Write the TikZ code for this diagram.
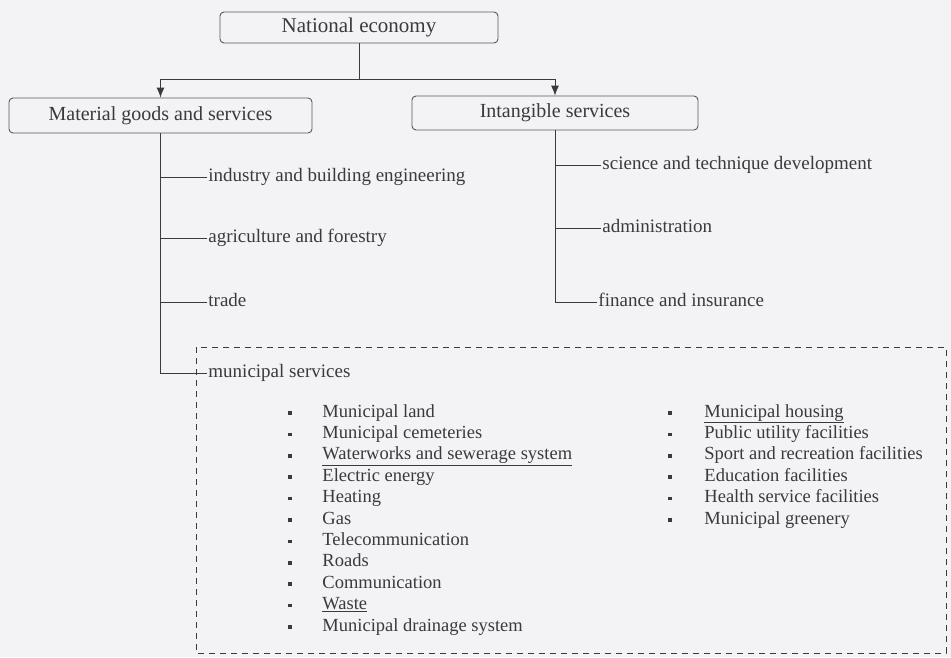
\documentclass[tikz,border=0pt]{standalone}
\usepackage{fontspec}
\setmainfont{Liberation Serif}
\usetikzlibrary{arrows.meta}
\definecolor{ink}{HTML}{3A3A3A}
\definecolor{paper}{HTML}{F3F3F5}
\begin{document}
\begin{tikzpicture}[x=1pt,y=-1pt,line width=0.9pt,color=ink,
    main node/.style={draw=ink!85,rounded corners=4pt,inner sep=0pt,font=\fontsize{20}{24}\selectfont},
    branch node/.style={anchor=west,inner sep=1pt,text height=12.5pt,text depth=4pt,font=\fontsize{19}{22}\selectfont},
    item node/.style={anchor=west,inner sep=0pt,text height=12pt,text depth=4pt,font=\fontsize{18.5}{22}\selectfont},
    bullet node/.style={fill=ink,inner sep=0pt,minimum size=3.6pt}]

    \fill[paper] (0,0) rectangle (951,657);
    \useasboundingbox (0,0) rectangle (951,657);

    % Define vertices
    \node[main node,minimum width=278pt,minimum height=31pt,font=\fontsize{21}{24}\selectfont] (NE) at (359,27.5) {National economy};
    \node[main node,minimum width=303pt,minimum height=35pt] (MG) at (160.5,115.5) {Material goods and services};
    \node[main node,minimum width=286pt,minimum height=34pt] (IS) at (555,113) {Intangible services};

    \node[branch node] (ind) at (207,177) {industry and building engineering};
    \node[branch node] (agr) at (207,238) {agriculture and forestry};
    \node[branch node] (trd) at (207,302) {trade};
    \node[branch node] (ms)  at (207,373) {municipal services};

    \node[branch node] (sci) at (601,165) {science and technique development};
    \node[branch node] (adm) at (601,228) {administration};
    \node[branch node] (fin) at (597,302) {finance and insurance};

    % Municipal services lists
    \foreach \txt [count=\i from 0] in {Municipal land, Municipal cemeteries,
        \underline{Waterworks and sewerage system}, Electric energy, Heating, Gas,
        Telecommunication, Roads, Communication, \underline{Waste}, Municipal drainage system}
    {
        \node[bullet node] (lb\i) at (290,413+21.4*\i) {};
        \node[item node] (li\i) at (322,413+21.4*\i) {\txt};
    }
    \foreach \txt [count=\i from 0] in {\underline{Municipal housing}, Public utility facilities,
        Sport and recreation facilities, Education facilities, Health service facilities,
        Municipal greenery}
    {
        \node[bullet node] (rb\i) at (670,413+21.4*\i) {};
        \node[item node] (ri\i) at (704,413+21.4*\i) {\txt};
    }

    % Draw edges
    \coordinate (split) at (359,79);
    \draw (NE) -- (split);
    \draw[-{Latex[length=10pt,width=8pt]}] (split) -| (MG.north);
    \draw[-{Latex[length=10pt,width=8pt]}] (split) -| (IS.north);

    \draw (MG.south) |- (ms.west);
    \foreach \n in {ind,agr,trd}
        \draw (MG.south |- \n.west) -- (\n.west);

    \draw (IS.south) |- (fin.west);
    \foreach \n in {sci,adm}
        \draw (IS.south |- \n.west) -- (\n.west);

    % Municipal services frame
    \draw[dash pattern=on 6pt off 5pt] (196,347) rectangle (946,653);

\end{tikzpicture}
\end{document}
